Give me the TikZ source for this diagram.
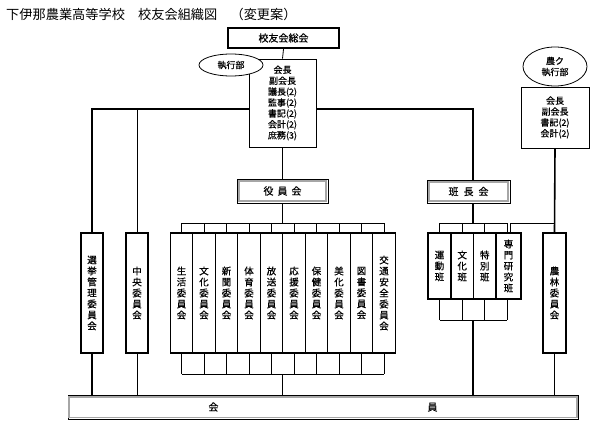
\documentclass[tikz,border=0pt]{standalone}
\usepackage{fontspec}
\setmainfont{Noto Sans CJK JP}
\newfontfamily\jpm{Noto Sans CJK JP}[FakeBold=0.6]
\usetikzlibrary{shapes.geometric}
\begin{document}
\begin{tikzpicture}[x=1pt,y=-1pt,
  thin/.style={line width=0.8pt},
  thk/.style={line width=1.6pt},
  vbox/.style={draw,line width=1.4pt,minimum height=120pt,inner sep=0pt,align=center,font=\jpm\fontsize{9.5}{11}\selectfont,fill=white},
  hbox/.style={draw,line width=1.4pt,minimum height=66pt,inner sep=0pt,align=center,font=\jpm\fontsize{9.5}{11}\selectfont,fill=white},
  infobox/.style={draw,thin,fill=white,inner sep=0pt,align=center,font=\jpm\fontsize{9}{10.9}\selectfont},
  ell/.style={ellipse,draw,thin,fill=white,inner sep=0pt,align=center,font=\jpm\fontsize{9}{11}\selectfont},
  frame/.style={draw,thin,fill=white,inner sep=0pt,font=\jpm\fontsize{10}{12}\selectfont},
  bevel/.style={draw=gray!70,line width=1.5pt}
]
\useasboundingbox (0,0) rectangle (600,431);
\fill[white] (0,0) rectangle (600,431);

% title
\node[anchor=west,inner sep=0pt,font=\fontsize{13.2}{14}\selectfont] (title) at (6,14) {下伊那農業高等学校　校友会組織図　（変更案）};

% coordinates
\coordinate (jL) at (92,109);
\coordinate (jR) at (473,109);
\coordinate (ytop) at (282.5,223);
\coordinate (ybot) at (282.5,374);
\coordinate (htop) at (473,223);
\coordinate (hbot) at (473,320);
\coordinate (ntop) at (555,223);

% top box
\node[draw,line width=2.4pt,minimum width=111pt,minimum height=20pt,inner sep=0pt,font=\jpm\fontsize{10}{12}\selectfont] (sokai) at (283.5,38) {校友会総会};

% executive box
\node[infobox,minimum width=67pt,minimum height=88pt] (exec) at (282.5,103) {会長\\副会長\\議長(2)\\監事(2)\\書記(2)\\会計(2)\\庶務(3)};

% 役員会
\node[frame,minimum width=91pt,minimum height=24pt] (yakuin) at (282.5,191) {役\hspace{4pt}員\hspace{4pt}会};
% 班長会
\node[frame,minimum width=83pt,minimum height=23pt] (hancho) at (468.5,191.5) {班\hspace{5pt}長\hspace{5pt}会};

% 農ク
\node[infobox,minimum width=68pt,minimum height=61pt] (nokbox) at (555,117.5) {会長\\副会長\\書記(2)\\会計(2)};

% left boxes
\node[vbox,minimum width=22pt] (senkyo) at (92,293) {選\\挙\\管\\理\\委\\員\\会};
\node[vbox,minimum width=22pt] (chuo) at (137,293) {中\\央\\委\\員\\会};

% committees
\foreach \i/\t in {0/{生\\活\\委\\員\\会},1/{文\\化\\委\\員\\会},2/{新\\聞\\委\\員\\会},3/{体\\育\\委\\員\\会},4/{放\\送\\委\\員\\会},5/{応\\援\\委\\員\\会},6/{保\\健\\委\\員\\会},7/{美\\化\\委\\員\\会},8/{図\\書\\委\\員\\会},9/{交\\通\\安\\全\\委\\員\\会}}{
  \node[vbox,minimum width=22.5pt] (c\i) at (181.5+22.5*\i,293) {\t};
}

% han boxes
\node[hbox,minimum width=23pt] (h1) at (439.5,266) {運\\動\\班};
\node[hbox,minimum width=22.5pt] (h2) at (462.25,266) {文\\化\\班};
\node[hbox,minimum width=22.5pt] (h3) at (484.75,266) {特\\別\\班};
\node[hbox,minimum width=25pt] (h4) at (508.5,266) {専\\門\\研\\究\\班};

% 農林委員会
\node[vbox,minimum width=23pt] (norin) at (554.5,293) {農\\林\\委\\員\\会};

% 会員
\node[draw,thin,minimum width=510pt,minimum height=24pt,inner sep=0pt,font=\jpm\fontsize{10}{12}\selectfont] (kaiin) at (323,407) {会\hspace{209pt}員};

% connectors
\draw[thin] (sokai.south) -- (exec.north);
\draw[thk] (senkyo.north) -- (jL) -- (exec.west |- jL);
\draw[thk] (exec.east |- jR) -- (jR) -- (jR |- hancho.north);
\draw[thin] (chuo.north) -- (chuo.north |- jL);
\draw[thin] (exec.south) -- (yakuin.north);
\draw[thin] (yakuin.south) -- (ytop);
\draw[thin] (c0.north |- ytop) -- (c9.north |- ytop);
\foreach \i in {0,...,9}{
  \draw[thin] (c\i.north) -- (c\i.north |- ytop);
  \draw[thin] (c\i.south) -- (c\i.south |- ybot);
}
\draw[thin] (c0.south |- ybot) -- (c9.south |- ybot);
\draw[thin] (ybot) -- (ybot |- kaiin.north);
\draw[thk] (senkyo.south) -- (senkyo.south |- kaiin.north);
\draw[thin] (chuo.south) -- (chuo.south |- kaiin.north);

% han brackets
\draw[thk] (jR |- hancho.south) -- (htop);
\draw[thin] (h1.north |- htop) -- ([xshift=-1.5pt]h4.north |- htop);
\foreach \i in {1,2,3}{
  \draw[thin] (h\i.north) -- (h\i.north |- htop);
  \draw[thin] (h\i.south) -- (h\i.south |- hbot);
}
\draw[thin] ([xshift=-1.5pt]h4.north) -- ([xshift=-1.5pt]h4.north |- htop);
\draw[thin] ([xshift=-1.5pt]h4.south) -- ([xshift=-1.5pt]h4.south |- hbot);
\draw[thin] (h1.south |- hbot) -- ([xshift=-1.5pt]h4.south |- hbot);
\draw[thk] (hbot) -- (hbot |- kaiin.north);
\draw[thin] ([xshift=1.5pt]h4.north) -- ([xshift=1.5pt]h4.north |- ntop) -- (ntop);
\draw[thk] (nokbox.south) -- (norin.north);
\draw[thk] (norin.south) -- (norin.south |- kaiin.north);

% bevels
\draw[bevel] ([shift={(2.5pt,-2.5pt)}]yakuin.north west) rectangle ([shift={(-2.5pt,2.5pt)}]yakuin.south east);
\draw[bevel] ([shift={(2.5pt,-2.5pt)}]hancho.north west) rectangle ([shift={(-2.5pt,2.5pt)}]hancho.south east);
\draw[bevel] ([shift={(1.5pt,-2.5pt)}]kaiin.north west) rectangle ([shift={(-1.5pt,2pt)}]kaiin.south east);

% ellipses
\node[ell,minimum width=64pt,minimum height=22pt] (e1) at (231,65) {執行部};
\node[ell,minimum width=64pt,minimum height=39pt] (e2) at (555,66.5) {農ク\\執行部};
\end{tikzpicture}
\end{document}
